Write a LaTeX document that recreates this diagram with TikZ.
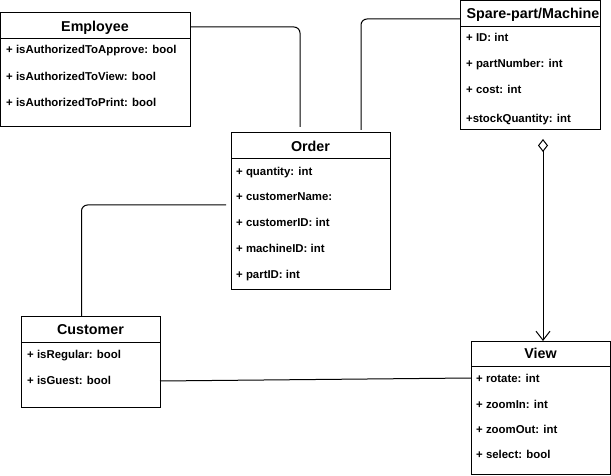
\documentclass[tikz,border=0pt]{standalone}
\usepackage{fontspec}
\setmainfont{Liberation Sans}
\usetikzlibrary{arrows.meta,calc}
\begin{document}
\begin{tikzpicture}[x=1pt,y=-1pt,
  cls/.style={draw,line width=1pt,anchor=north west,inner sep=0pt,outer sep=0pt},
  ttl/.style={font=\fontsize{14.3}{16}\selectfont\bfseries,inner sep=0pt,text height=10.3pt,text depth=0pt},
  attr/.style={font=\fontsize{11.4}{13}\selectfont\bfseries,anchor=west,inner sep=0pt,text height=8.3pt,text depth=0pt},
  conn/.style={draw,line width=1pt,rounded corners=6pt}]
\useasboundingbox (0,0) rectangle (611,476);
% Employee
\node[cls,minimum width=190pt,minimum height=114pt] (emp) at (0,13) {};
\draw[line width=1pt] (0,39) -- (190,39);
\node[ttl] (empt) at (95,26) {Employee};
\node[attr] (e1) at (6,49) {+ isAuthorizedToApprove: bool};
\node[attr] (e2) at (6,76) {+ isAuthorizedToView: bool};
\node[attr] (e3) at (6,102) {+ isAuthorizedToPrint: bool};
% Order
\node[cls,minimum width=159pt,minimum height=156pt] (ord) at (231,133) {};
\draw[line width=1pt] (231,159) -- (390,159);
\node[ttl] (ordt) at (310.5,146) {Order};
\node[attr] (o1) at (236,171) {+ quantity: int};
\node[attr] (o2) at (236,196) {+ customerName:};
\node[attr] (o3) at (236,222) {+ customerID: int};
\node[attr] (o4) at (236,248) {+ machineID: int};
\node[attr] (o5) at (236,274) {+ partID: int};
% Spare-part/Machine
\begin{scope}
\clip (460,0) rectangle (600,27);
\node[ttl,anchor=west] (spt) at (466.5,13.5) {Spare-part/Machine};
\end{scope}
\node[cls,minimum width=140pt,minimum height=129pt] (spare) at (460,1) {};
\draw[line width=1pt] (460,27) -- (600,27);
\node[attr] (s1) at (466,37) {+ ID: int};
\node[attr] (s2) at (466,63) {+ partNumber: int};
\node[attr] (s3) at (466,89) {+ cost: int};
\node[attr] (s4) at (466,118) {+stockQuantity: int};
% Customer
\node[cls,minimum width=139pt,minimum height=91pt] (cust) at (21,316) {};
\draw[line width=1pt] (21,342) -- (160,342);
\node[ttl] (custt) at (90.5,329) {Customer};
\node[attr] (c1) at (27,354) {+ isRegular: bool};
\node[attr] (c2) at (27,380) {+ isGuest: bool};
% View
\node[cls,minimum width=139pt,minimum height=133pt] (view) at (471,341) {};
\draw[line width=1pt] (471,366) -- (610,366);
\node[ttl] (viewt) at (540.5,353) {View};
\node[attr] (v1) at (476,378) {+ rotate: int};
\node[attr] (v2) at (476,404) {+ zoomIn: int};
\node[attr] (v3) at (476,429) {+ zoomOut: int};
\node[attr] (v4) at (476,454) {+ select: bool};
% connectors
\draw[conn,shorten >=6pt] (emp.east |- 0,27) -| ([xshift=-10.5pt]ord.north);
\draw[conn,shorten >=3pt] (spare.west |- 0,19) -| ([xshift=50.5pt]ord.north);
\draw[conn,shorten <=5pt] (ord.west |- 0,205) -| ([xshift=-9pt]cust.north);
\draw[line width=1pt] (cust.east |- 0,381) -- (view.west |- 0,378);
\draw[line width=1pt,shorten <=9pt,{Diamond[open,length=13pt,width=10pt]}-{Straight Barb[length=9pt,width=14pt]}] ([xshift=13pt]spare.south) -- ([xshift=2.5pt]view.north);
\end{tikzpicture}
\end{document}
